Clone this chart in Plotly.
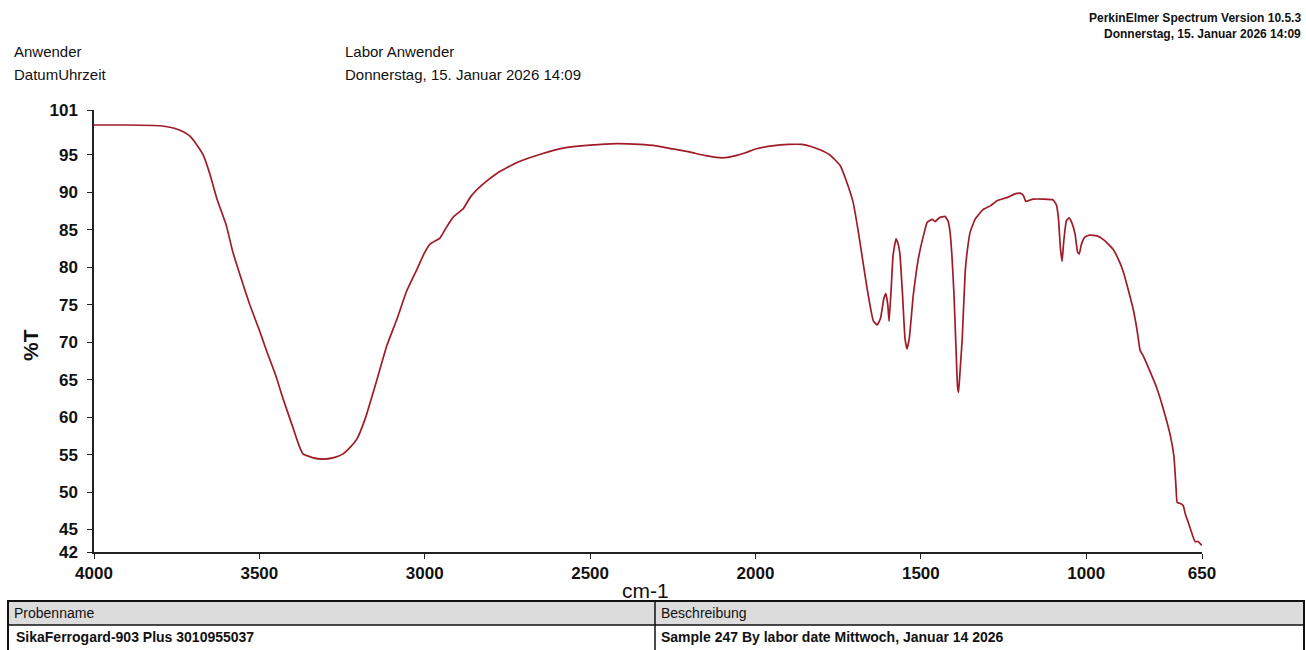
import plotly.graph_objects as go

# ---- data ----
wavenumber = [4000, 3900, 3800, 3760, 3730, 3710, 3690, 3670, 3650, 3628, 3600, 3580, 3555, 3529,
              3500, 3477, 3450, 3428, 3400, 3380, 3368, 3340, 3308, 3275, 3247, 3225, 3205, 3180,
              3144, 3115, 3084, 3055, 3023, 3000, 2984, 2965, 2954, 2935, 2914, 2895, 2884, 2860,
              2824, 2780, 2721, 2650, 2582, 2500, 2420, 2350, 2300, 2250, 2200, 2150, 2100, 2060,
              2030, 2000, 1950, 1900, 1860, 1830, 1805, 1775, 1744, 1725, 1705, 1690, 1675, 1660,
              1644, 1632, 1622, 1612, 1606, 1600, 1596, 1590, 1584, 1575, 1568, 1563, 1555, 1548,
              1542, 1535, 1523, 1512, 1502, 1490, 1481, 1465, 1457, 1445, 1427, 1418, 1412, 1406,
              1400, 1394, 1389, 1386, 1381, 1375, 1366, 1358, 1351, 1335, 1312, 1290, 1270, 1240,
              1215, 1200, 1190, 1183, 1175, 1160, 1130, 1100, 1090, 1084, 1078, 1073, 1068, 1060,
              1052, 1044, 1034, 1026, 1021, 1015, 1005, 990, 967, 945, 919, 900, 888, 873,
              858, 847, 837, 828, 815, 786, 765, 746, 735, 729, 725, 717, 707, 700,
              692, 680, 671, 662, 655, 650]
transmittance = [99.0, 99.0, 98.9, 98.6, 98.1, 97.5, 96.4, 95.0, 92.5, 89.1, 85.6, 82.0, 78.5, 75.0,
                 71.6, 68.7, 65.5, 62.4, 58.8, 56.2, 55.1, 54.6, 54.4, 54.6, 55.1, 56.0, 57.1, 59.8,
                 65.1, 69.5, 73.1, 76.8, 79.8, 82.0, 83.1, 83.6, 83.9, 85.3, 86.7, 87.4, 87.8, 89.5,
                 91.1, 92.6, 94.0, 95.1, 95.9, 96.3, 96.5, 96.4, 96.2, 95.8, 95.4, 94.9, 94.6, 94.9,
                 95.3, 95.8, 96.2, 96.4, 96.4, 96.1, 95.7, 95.0, 93.6, 91.5, 88.7, 85.0, 80.7, 76.5,
                 72.9, 72.3, 73.2, 75.8, 76.5, 75.0, 72.8, 77.0, 81.6, 83.8, 83.0, 81.6, 76.0, 70.5,
                 69.1, 70.5, 76.3, 80.0, 82.4, 84.6, 86.0, 86.4, 86.1, 86.6, 86.8, 86.2, 84.8, 81.5,
                 76.5, 69.5, 64.0, 63.3, 66.5, 70.4, 79.4, 82.8, 84.7, 86.5, 87.7, 88.2, 88.9, 89.3,
                 89.8, 89.9, 89.6, 88.8, 88.9, 89.1, 89.1, 89.0, 88.3, 86.5, 82.5, 80.8, 83.5, 86.2,
                 86.6, 86.0, 84.5, 82.0, 81.8, 83.0, 84.0, 84.3, 84.2, 83.6, 82.4, 80.8, 79.4, 77.0,
                 74.4, 71.8, 68.9, 68.2, 66.9, 63.8, 60.8, 57.6, 54.8, 51.0, 48.6, 48.5, 48.2, 47.0,
                 46.0, 44.4, 43.4, 43.4, 43.1, 42.9]

x_tickvals = [4000, 3500, 3000, 2500, 2000, 1500, 1000, 650]
y_tickvals = [42, 45, 50, 55, 60, 65, 70, 75, 80, 85, 90, 95, 101]

header_left = [("Anwender", "Labor Anwender"),
               ("DatumUhrzeit", "Donnerstag, 15. Januar 2026 14:09")]
header_right = ["PerkinElmer Spectrum Version 10.5.3", "Donnerstag, 15. Januar 2026 14:09"]
table_header = ["Probenname", "Beschreibung"]
table_row = ["SikaFerrogard-903 Plus 3010955037", "Sample 247 By labor date Mittwoch, Januar 14 2026"]

# ---- layout geometry (page pixels) ----
W, H = 1306, 650
L, T = 94, 110
PW, PH = 1108, 442
R, B = W - L - PW, H - T - PH
FONT = "Liberation Sans, Arial, sans-serif"


def px(xpage):
    return (xpage - L) / PW


def py(ypage):
    return (T + PH - ypage) / PH


fig = go.Figure()
fig.add_trace(go.Scatter(x=wavenumber, y=transmittance, mode="lines",
                         line=dict(color="#a01b28", width=1.7, shape="spline", smoothing=0.4),
                         hoverinfo="x+y", showlegend=False))

ann = []
for i, (lab, val) in enumerate(header_left):
    yy = 51 + i * 23
    ann.append(dict(text=lab, x=px(12), y=py(yy), xanchor="left", yanchor="middle",
                    font=dict(size=15, color="#111")))
    ann.append(dict(text=val, x=px(343), y=py(yy), xanchor="left", yanchor="middle",
                    font=dict(size=15, color="#111")))
for i, t in enumerate(header_right):
    ann.append(dict(text=t, x=px(1303), y=py(18 + i * 16), xanchor="right", yanchor="middle",
                    font=dict(size=12, color="#111", weight="bold")))
ann.append(dict(text="%T", x=px(30), y=py(345), textangle=-90, xanchor="center", yanchor="middle",
                font=dict(size=21, color="#111", weight="bold")))
ann.append(dict(text="cm-1", x=px(645), y=py(590), xanchor="center", yanchor="middle",
                font=dict(size=21, color="#111")))
ann.append(dict(text=table_header[0], x=px(12), y=py(613), xanchor="left", yanchor="middle",
                font=dict(size=14, color="#111")))
ann.append(dict(text=table_header[1], x=px(659), y=py(613), xanchor="left", yanchor="middle",
                font=dict(size=14, color="#111")))
ann.append(dict(text=table_row[0], x=px(14), y=py(637), xanchor="left", yanchor="middle",
                font=dict(size=14, color="#111", weight="bold")))
ann.append(dict(text=table_row[1], x=px(659), y=py(637), xanchor="left", yanchor="middle",
                font=dict(size=14, color="#111", weight="bold")))
for a in ann:
    a.update(xref="paper", yref="paper", showarrow=False)

shapes = [
    dict(type="rect", x0=px(8), x1=px(1304), y0=py(601), y1=py(625),
         fillcolor="#dcdcdc", line=dict(width=0), layer="below"),
    dict(type="rect", x0=px(8), x1=px(1304), y0=py(601), y1=py(651),
         line=dict(color="#111", width=2)),
    dict(type="line", x0=px(8), x1=px(1304), y0=py(625), y1=py(625),
         line=dict(color="#111", width=1.5)),
    dict(type="line", x0=px(655), x1=px(655), y0=py(601), y1=py(651),
         line=dict(color="#111", width=1.5)),
]
for s in shapes:
    s.update(xref="paper", yref="paper")

fig.update_layout(
    width=W, height=H,
    margin=dict(l=L, r=R, t=T, b=B, pad=0),
    paper_bgcolor="white", plot_bgcolor="white",
    font=dict(family=FONT, color="#111"),
    annotations=ann, shapes=shapes,
    xaxis=dict(range=[4000, 650], tickvals=x_tickvals, ticktext=[str(v) for v in x_tickvals],
               showgrid=False, zeroline=False, showline=True, linecolor="#222", linewidth=1.5,
               ticks="outside", ticklen=5, tickwidth=1.2, tickcolor="#222",
               tickfont=dict(size=17, family=FONT, color="#111", weight="bold")),
    yaxis=dict(range=[42, 101], tickvals=y_tickvals, ticktext=[str(v) for v in y_tickvals],
               showgrid=False, zeroline=False, showline=True, linecolor="#222", linewidth=1.5,
               ticks="outside", ticklen=5, tickwidth=1.2, tickcolor="#222",
               ticklabelstandoff=6,
               tickfont=dict(size=17, family=FONT, color="#111", weight="bold")),
)

fig.write_html("out.html", config={"displayModeBar": False},
               post_script="document.body.style.margin='0';document.body.style.overflow='hidden';")
